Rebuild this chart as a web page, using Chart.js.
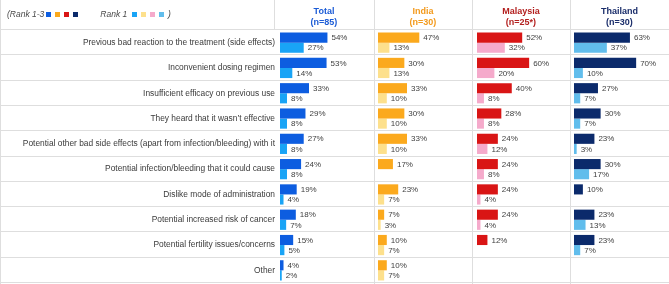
<!DOCTYPE html>
<html>
<head>
<meta charset="utf-8">
<script src="https://cdn.jsdelivr.net/npm/chart.js@4.4.2/dist/chart.umd.min.js"></script>
<style>
  html, body { margin: 0; padding: 0; background: #fff; }
  #wrap { position: relative; width: 669px; height: 284px; overflow: hidden; font-family: 'Liberation Sans', Arial, sans-serif; }
  .col { position: absolute; top: 0; height: 284px; }
  .head { position: absolute; top: 6px; text-align: center; font-weight: bold; font-size: 9px; line-height: 11px; z-index: 2; }
  #legend { position: absolute; left: 7px; top: 9px; font-style: italic; font-size: 8.5px; color: #4a4a4a; z-index: 2; white-space: nowrap; }
  #legend i { display: inline-block; width: 5px; height: 5px; margin: 0 2px 0 2px; vertical-align: 0px; }
</style>
</head>
<body>
<div id="wrap">
  <div id="legend"></div>
  <div class="col" style="left:0;width:374px"><canvas id="c0"></canvas></div>
  <div class="col" style="left:374px;width:98px"><canvas id="c1"></canvas></div>
  <div class="col" style="left:472px;width:98px"><canvas id="c2"></canvas></div>
  <div class="col" style="left:570px;width:99px"><canvas id="c3"></canvas></div>
</div>
<script>
const reasons = [
  'Previous bad reaction to the treatment (side effects)',
  'Inconvenient dosing regimen',
  'Insufficient efficacy on previous use',
  'They heard that it wasn’t effective',
  'Potential other bad side effects (apart from infection/bleeding) with it',
  'Potential infection/bleeding that it could cause',
  'Dislike mode of administration',
  'Potential increased risk of cancer',
  'Potential fertility issues/concerns',
  'Other'
];

const groups = ['Total', 'India', 'Malaysia', 'Thailand'];
const sampleSizes = ['(n=85)', '(n=30)', '(n=25*)', '(n=30)'];

const totalTop3 = [54, 53, 33, 29, 27, 24, 19, 18, 15, 4];
const totalTop1 = [27, 14, 8, 8, 8, 8, 4, 7, 5, 2];
const indiaTop3 = [47, 30, 33, 30, 33, 17, 23, 7, 10, 10];
const indiaTop1 = [13, 13, 10, 10, 10, null, 7, 3, 7, 7];
const malaysiaTop3 = [52, 60, 40, 28, 24, 24, 24, 24, 12, null];
const malaysiaTop1 = [32, 20, 8, 8, 12, 8, 4, 4, null, null];
const thailandTop3 = [63, 70, 27, 30, 23, 30, 10, 23, 23, null];
const thailandTop1 = [37, 10, 7, 7, 3, 17, null, 13, 7, null];

const top3Colors = ['#0d5de0', '#fba91d', '#d91515', '#0b2a6b'];
const top1Colors = ['#19a4f6', '#fde08c', '#f5aacb', '#61bdec'];
const headColors = ['#1c5cd6', '#f39a1c', '#b3201f', '#1b2e6b'];

const series = [
  [totalTop3, totalTop1],
  [indiaTop3, indiaTop1],
  [malaysiaTop3, malaysiaTop1],
  [thailandTop3, thailandTop1]
];

const FONT = "'Liberation Sans', Arial, sans-serif";
const GRID = '#dedede';

// legend line
const legend = document.getElementById('legend');
legend.innerHTML = '(Rank 1-3' + top3Colors.map(c => `<i style="background:${c}"></i>`).join('') +
  '<span style="margin-left:20px">Rank 1</span> ' + top1Colors.map(c => `<i style="background:${c}"></i>`).join('') + ' )';

// row rules across the whole canvas, separators between columns
const tableLines = {
  id: 'tableLines',
  beforeDatasetsDraw(chart, args, opts) {
    const { ctx } = chart;
    const y = chart.scales.y;
    ctx.save();
    ctx.strokeStyle = GRID;
    ctx.lineWidth = 1;
    for (let i = 0; i <= reasons.length; i++) {
      const py = Math.round(y.getPixelForValue(i - 0.5)) - 0.5;
      ctx.beginPath();
      ctx.moveTo(0, py);
      ctx.lineTo(chart.width, py);
      ctx.stroke();
    }
    const lines = opts.first
      ? [[0.5, chart.height], [chart.chartArea.left - 5.5, chart.chartArea.top]]
      : [[0.5, chart.height]];
    lines.forEach(([px, bottom]) => {
      ctx.beginPath();
      ctx.moveTo(px, 0);
      ctx.lineTo(px, bottom);
      ctx.stroke();
    });
    ctx.restore();
  }
};

const valueLabels = {
  id: 'valueLabels',
  afterDatasetsDraw(chart) {
    const { ctx } = chart;
    ctx.save();
    ctx.font = `8px ${FONT}`;
    ctx.fillStyle = '#404040';
    ctx.textBaseline = 'middle';
    ctx.textAlign = 'left';
    chart.data.datasets.forEach((ds, di) => {
      chart.getDatasetMeta(di).data.forEach((bar, i) => {
        const v = ds.data[i];
        if (v === null || v === undefined) return;
        ctx.fillText(v + '%', bar.x + 4, bar.y + 0.5);
      });
    });
    ctx.restore();
  }
};

series.forEach(([top3, top1], k) => {
  const first = k === 0;
  const padLeft = [0, 4, 5, 4][k];
  const yScale = {
    display: first,
    grid: { display: false, drawTicks: false },
    border: { display: false },
    ticks: { font: { family: FONT, size: 8.4 }, color: '#3a3a3a', padding: 5 }
  };
  if (first) {
    yScale.afterFit = scale => {
      scale.width = 280;
      scale.paddingTop = 0;
      scale.paddingBottom = 0;
    };
  }
  new Chart(document.getElementById('c' + k), {
    type: 'bar',
    data: {
      labels: reasons,
      datasets: [
        { label: 'Rank 1-3', data: top3, backgroundColor: top3Colors[k] },
        { label: 'Rank 1', data: top1, backgroundColor: top1Colors[k] }
      ]
    },
    options: {
      indexAxis: 'y',
      responsive: true,
      maintainAspectRatio: false,
      animation: false,
      categoryPercentage: 0.8,
      barPercentage: 1.0,
      layout: { padding: { top: 30, bottom: 1, left: padLeft, right: 0 } },
      plugins: {
        legend: { display: false },
        tooltip: { enabled: false },
        tableLines: { first: first }
      },
      scales: {
        x: { display: false, min: 0, max: 107 },
        y: yScale
      }
    },
    plugins: [tableLines, valueLabels]
  });

  const head = document.createElement('div');
  head.className = 'head';
  const col = document.querySelectorAll('.col')[k];
  const left = first ? 274 : parseInt(col.style.left);
  const width = first ? 100 : parseInt(col.style.width);
  head.style.left = left + 'px';
  head.style.width = width + 'px';
  head.style.color = headColors[k];
  head.innerHTML = groups[k] + '<br>' + sampleSizes[k];
  document.getElementById('wrap').appendChild(head);
});
</script>
</body>
</html>
